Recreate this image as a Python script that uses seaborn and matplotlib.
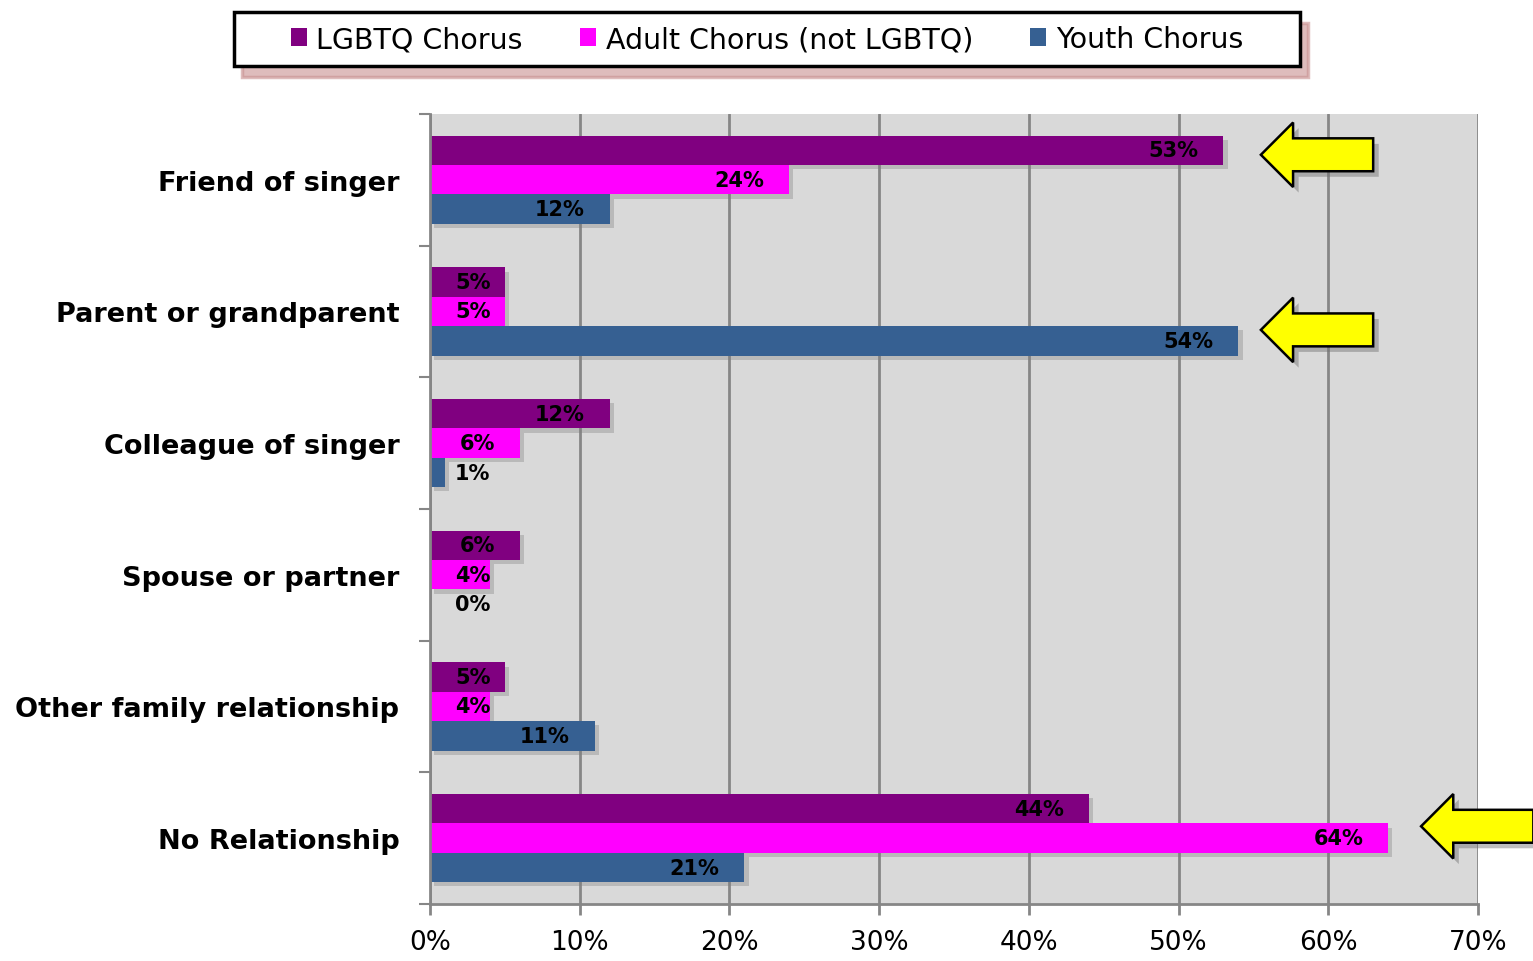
import matplotlib.pyplot as plt
import matplotlib.patheffects as pe
from matplotlib.patches import Patch, Polygon
import numpy as np
import pandas as pd
import seaborn as sns

# Survey data: how audience members relate to the singers
relationships = ["Friend of singer", "Parent or grandparent", "Colleague of singer",
                 "Spouse or partner", "Other family relationship", "No Relationship"]
choruses = ["LGBTQ Chorus", "Adult Chorus (not LGBTQ)", "Youth Chorus"]
lgbtq_pct = [53, 5, 12, 6, 5, 44]
adult_pct = [24, 5, 6, 4, 4, 64]
youth_pct = [12, 54, 1, 0, 11, 21]
colors = ["#800080", "#FF00FF", "#366092"]
x_ticks = [0, 10, 20, 30, 40, 50, 60, 70]
# (category index, chorus index) of the highlighted bars
highlights = [(0, 0), (1, 2), (5, 1)]

df = pd.DataFrame({
    "relationship": relationships * 3,
    "chorus": np.repeat(choruses, len(relationships)),
    "pct": lgbtq_pct + adult_pct + youth_pct,
})

sns.set_style("white")
plt.rcParams["font.family"] = ["DejaVu Sans"]
plt.rcParams["text.color"] = "black"
plt.rcParams["xtick.color"] = "black"
plt.rcParams["ytick.color"] = "black"

fig = plt.figure(figsize=(15.33, 9.62), dpi=100)
ax = fig.add_axes([0.2805, 0.0593, 0.6836, 0.8212])
ax.set_facecolor("#D9D9D9")

sns.barplot(data=df, y="relationship", x="pct", hue="chorus", order=relationships,
            hue_order=choruses, palette=colors, orient="h", width=0.67,
            saturation=1, legend=False, linewidth=0, ax=ax)

shadow = [pe.SimplePatchShadow(offset=(3, -3), shadow_rgbFace="#808080", alpha=0.35), pe.Normal()]
for cont in ax.containers:
    for bar in cont:
        bar.set_path_effects(shadow)
        v = bar.get_width()
        yc = bar.get_y() + bar.get_height() / 2
        if v >= 6:
            # inside end of the bar
            ax.annotate(f"{v:.0f}%", (v, yc), xytext=(-18, 0), textcoords="offset points",
                        ha="right", va="center", fontsize=15, fontweight="bold")
        else:
            # too short: keep the label a fixed distance from the axis
            ax.annotate(f"{v:.0f}%", (0, yc), xytext=(18, 0), textcoords="offset points",
                        ha="left", va="center", fontsize=15, fontweight="bold")

ax.set_xlim(0, 70)
ax.set_ylim(5.5, -0.5)
ax.set_xticks(x_ticks)
ax.set_xticklabels([f"{t}%" for t in x_ticks], fontsize=19)
ax.set_yticks(range(len(relationships)))
ax.set_yticklabels(relationships, fontsize=19.5, fontweight="bold")
ax.set_yticks(np.arange(-0.5, 6, 1), minor=True)
ax.tick_params(axis="y", which="major", length=0, pad=22)
ax.tick_params(axis="y", which="minor", length=8, width=1.5, color="#868686", direction="out", left=True)
ax.tick_params(axis="x", length=8, width=2, color="#868686", direction="out", bottom=True, pad=10)
ax.set_xlabel("")
ax.set_ylabel("")
ax.grid(axis="x", color="#868686", linewidth=2)
ax.grid(axis="y", visible=False)
ax.set_axisbelow(True)
for side in ["top", "right"]:
    ax.spines[side].set_visible(False)
for side in ["left", "bottom"]:
    ax.spines[side].set_color("#868686")
    ax.spines[side].set_linewidth(2)

# yellow call-out arrows pointing at the highlighted bars
arrow_fx = [pe.SimplePatchShadow(offset=(4, -4), shadow_rgbFace="#707070", alpha=0.45), pe.Normal()]


def draw_arrow(ax, tip_x, y, length=7.5, head_len=2.15, body_h=0.125, head_h=0.245):
    pts = [(tip_x, y), (tip_x + head_len, y - head_h), (tip_x + head_len, y - body_h),
           (tip_x + length, y - body_h), (tip_x + length, y + body_h),
           (tip_x + head_len, y + body_h), (tip_x + head_len, y + head_h)]
    poly = Polygon(pts, closed=True, facecolor="#FFFF00", edgecolor="black",
                   linewidth=1.8, clip_on=False, zorder=5)
    poly.set_path_effects(arrow_fx)
    ax.add_patch(poly)


values = [lgbtq_pct, adult_pct, youth_pct]
offsets = [(2.5, -0.19), (1.5, 0.14), (2.2, -0.09)]
for (cat, ch), (dx, dy) in zip(highlights, offsets):
    draw_arrow(ax, values[ch][cat] + dx, cat + dy)

handles = [Patch(facecolor=c, edgecolor="none") for c in colors]
leg = fig.legend(handles, choruses, loc="center", bbox_to_anchor=(0.5003, 0.958), ncol=3,
                 fontsize=20.5, frameon=True, fancybox=False, handlelength=0.56,
                 handleheight=0.56, handletextpad=0.35, columnspacing=2.0,
                 borderpad=0.45, borderaxespad=0,
                 shadow={"color": "#C89090", "alpha": 0.6, "ox": 6, "oy": -8})
leg.get_frame().set_edgecolor("black")
leg.get_frame().set_linewidth(2.5)
# stretch the box sideways to the width of the original legend, items stay centred
leg._legend_box.sep = 0
leg.set_bbox_to_anchor((234 / 1533, 1 - 72 / 962, 1066 / 1533, 64 / 962), transform=fig.transFigure)
leg._mode = "expand"

fig.savefig("out.png", dpi=100)
